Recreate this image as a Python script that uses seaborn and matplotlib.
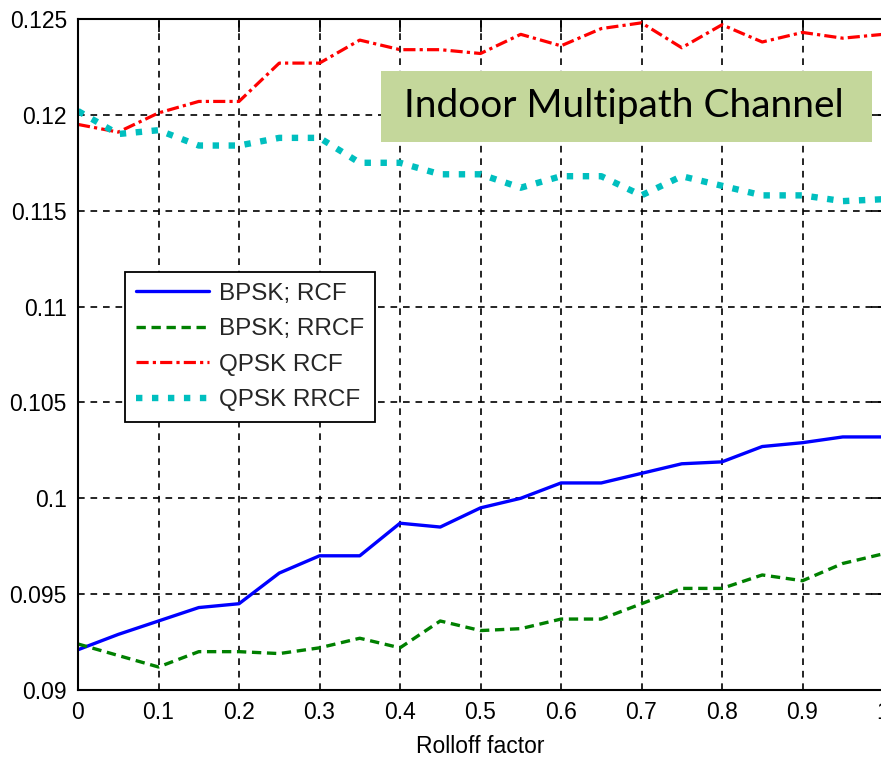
import numpy as np
import pandas as pd
import seaborn as sns
import matplotlib.pyplot as plt
from matplotlib.patches import Rectangle
from matplotlib.ticker import FuncFormatter

# values
rolloff = [0, 0.05, 0.1, 0.15, 0.2, 0.25, 0.3, 0.35, 0.4, 0.45, 0.5,
           0.55, 0.6, 0.65, 0.7, 0.75, 0.8, 0.85, 0.9, 0.95, 1.0]
bpsk_rcf = [0.0921, 0.0929, 0.0936, 0.0943, 0.0945, 0.0961, 0.0970, 0.0970, 0.0987, 0.0985, 0.0995,
            0.1000, 0.1008, 0.1008, 0.1013, 0.1018, 0.1019, 0.1027, 0.1029, 0.1032, 0.1032]
bpsk_rrcf = [0.0924, 0.0918, 0.0912, 0.0920, 0.0920, 0.0919, 0.0922, 0.0927, 0.0922, 0.0936, 0.0931,
             0.0932, 0.0937, 0.0937, 0.0945, 0.0953, 0.0953, 0.0960, 0.0957, 0.0966, 0.0971]
qpsk_rcf = [0.1195, 0.1191, 0.1201, 0.1207, 0.1207, 0.1227, 0.1227, 0.1239, 0.1234, 0.1234, 0.1232,
            0.1242, 0.1236, 0.1245, 0.1248, 0.1235, 0.1247, 0.1238, 0.1243, 0.1240, 0.1242]
qpsk_rrcf = [0.1202, 0.1190, 0.1192, 0.1184, 0.1184, 0.1188, 0.1188, 0.1175, 0.1175, 0.1169, 0.1169,
             0.1162, 0.1168, 0.1168, 0.1158, 0.1168, 0.1163, 0.1158, 0.1158, 0.1155, 0.1156]
labels = ['BPSK; RCF', 'BPSK; RRCF', 'QPSK RCF', 'QPSK RRCF']
x_ticks = [0, 0.1, 0.2, 0.3, 0.4, 0.5, 0.6, 0.7, 0.8, 0.9, 1.0]
y_ticks = [0.09, 0.095, 0.1, 0.105, 0.11, 0.115, 0.12, 0.125]

sns.set_theme(style='white')
plt.rcParams['font.family'] = ['Liberation Sans', 'DejaVu Sans']

fig = plt.figure(figsize=(8.81, 7.57), dpi=100)
W, H = 881, 757
ax = fig.add_axes([78 / W, 1 - 690 / H, (883 - 78) / W, (690 - 19) / H])

styles = [
    dict(color='#0000ff', lw=2.4, ls='-'),
    dict(color='#008000', lw=2.4, ls=(0, (2.8, 1.7))),
    dict(color='#ff0000', lw=2.3, ls=(0, (3.8, 1.3, 1.0, 1.3))),
    dict(color='#00bfbf', lw=4.6, ls=(0, (1.0, 1.5))),
]
for ys, lab, st in zip([bpsk_rcf, bpsk_rrcf, qpsk_rcf, qpsk_rrcf], labels, styles):
    sns.lineplot(x=rolloff, y=ys, ax=ax, label=lab, color=st['color'],
                 linewidth=st['lw'], linestyle=st['ls'])
for line in ax.get_lines():
    line.set_dash_capstyle('butt')

ax.set_xlim(0, 1)
ax.set_ylim(0.09, 0.125)
ax.set_xticks(x_ticks)
ax.set_yticks(y_ticks)
ax.xaxis.set_major_formatter(FuncFormatter(lambda v, p: f'{v:g}'))
ax.yaxis.set_major_formatter(FuncFormatter(lambda v, p: f'{v:g}'))
ax.grid(True, color='black', linestyle=(0, (4, 3.5)), linewidth=1.2)
ax.tick_params(direction='in', length=9, width=1.2, top=True, right=True,
               labelsize=16.5, colors='black', pad=8)
for sp in ax.spines.values():
    sp.set_color('black')
    sp.set_linewidth(1.5)
ax.set_xlabel('Rolloff factor', fontsize=16.5, color='black', labelpad=8)
ax.set_ylabel('')

leg = ax.legend(loc='upper left', bbox_to_anchor=(125 / W, 1 - 272 / H),
                bbox_transform=fig.transFigure, borderaxespad=0, fontsize=17.5,
                fancybox=False, framealpha=1, edgecolor='black',
                handlelength=3.0, labelspacing=0.55, borderpad=0.45,
                handletextpad=0.4)
leg.get_frame().set_linewidth(1.3)

# annotation box
fig.patches.append(Rectangle((381 / W, 1 - 142 / H), (872 - 381) / W, (142 - 71) / H,
                             transform=fig.transFigure, facecolor='#c4d79b',
                             edgecolor='none', zorder=5))
fig.text(624 / W, 1 - 106 / H, 'Indoor Multipath Channel', ha='center', va='center',
         fontsize=28, family=['Lato', 'DejaVu Sans'], color='black', zorder=6)

fig.savefig('out.png', dpi=100)
